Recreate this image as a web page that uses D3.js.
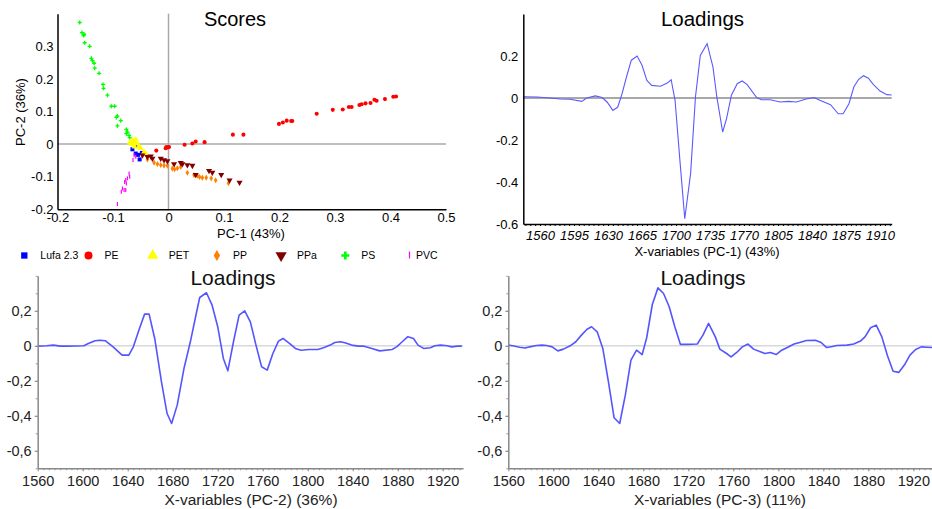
<!DOCTYPE html>
<html>
<head>
<meta charset="utf-8">
<script src="https://cdn.jsdelivr.net/npm/d3@7"></script>
<style>
html,body{margin:0;padding:0;background:#fff;}
svg{display:block;font-family:"Liberation Sans",Arial,sans-serif;}
</style>
</head>
<body>
<svg id="chart" width="932" height="509"></svg>
<script>
// ---------------- DATA ----------------
const scoreGroups = ["Lufa 2.3", "PE", "PET", "PP", "PPa", "PS", "PVC"];
const scoreColors = ["#0000ff", "#ff0000", "#ffff00", "#ff8000", "#800000", "#00ff00", "#ff00ff"];

const lufaScores = [[-0.060,-0.005],[-0.065,-0.016],[-0.059,-0.029],[-0.048,-0.027],[-0.052,-0.047],[-0.055,-0.033]];
const peScores = [[-0.022,-0.020],[-0.005,-0.013],[-0.004,-0.009],[-0.001,-0.010],[0.001,-0.009],[0.029,-0.002],
  [0.043,0.002],[0.049,0.008],[0.065,0.006],[0.116,0.029],[0.135,0.029],[0.199,0.062],[0.206,0.066],[0.213,0.072],
  [0.221,0.071],[0.223,0.071],[0.267,0.093],[0.296,0.105],[0.314,0.106],[0.325,0.114],[0.330,0.114],[0.344,0.120],
  [0.348,0.122],[0.355,0.125],[0.364,0.126],[0.371,0.136],[0.375,0.133],[0.390,0.138],[0.405,0.145],[0.410,0.146]];
const petScores = [[-0.065,0.012],[-0.062,0.007],[-0.059,0.014],[-0.067,0.002],[-0.070,0.004],[-0.056,0.002],
  [-0.053,-0.008],[-0.050,-0.013],[-0.044,-0.024],[-0.040,-0.031],[-0.064,-0.001],[-0.061,-0.008],
  [-0.063,0.004],[-0.062,0.002],[-0.064,0.005],[-0.061,0.003]];
const ppScores = [[-0.038,-0.047],[-0.026,-0.057],[-0.020,-0.061],[-0.014,-0.064],[-0.008,-0.066],[-0.002,-0.066],
  [0.007,-0.075],[0.011,-0.077],[0.016,-0.074],[0.022,-0.070],[0.034,-0.088],[0.046,-0.095],[0.052,-0.097],
  [0.056,-0.101],[0.061,-0.103],[0.068,-0.103],[0.077,-0.105],[0.085,-0.111],[0.108,-0.120]];
const ppaScores = [[-0.047,-0.034],[-0.038,-0.039],[-0.032,-0.037],[-0.029,-0.044],[-0.014,-0.044],[-0.008,-0.049],
  [-0.002,-0.052],[0.010,-0.061],[0.022,-0.057],[0.025,-0.061],[0.034,-0.064],[0.043,-0.066],[0.049,-0.094],
  [0.073,-0.082],[0.079,-0.087],[0.095,-0.094],[0.110,-0.111],[0.128,-0.118]];
const psScores = [[-0.160,0.373],[-0.156,0.342],[-0.152,0.337],[-0.153,0.333],[-0.151,0.311],[-0.142,0.300],
  [-0.139,0.263],[-0.137,0.256],[-0.134,0.248],[-0.133,0.233],[-0.125,0.217],[-0.118,0.183],[-0.117,0.171],
  [-0.110,0.150],[-0.103,0.116],[-0.097,0.116],[-0.094,0.082],[-0.092,0.086],[-0.086,0.072],[-0.092,0.056],
  [-0.076,0.045],[-0.074,0.037],[-0.071,0.027],[-0.076,0.032],[-0.070,0.020]];
const pvcScores = [[-0.062,-0.034],[-0.059,-0.039],[-0.064,-0.049],[-0.071,-0.090],[-0.074,-0.105],[-0.077,-0.110],
  [-0.079,-0.116],[-0.076,-0.121],[-0.080,-0.141],[-0.083,-0.136],[-0.085,-0.146],[-0.077,-0.141],[-0.092,-0.184],
  [-0.070,-0.100]];

const scoreXTicks = [-0.2, -0.1, 0, 0.1, 0.2, 0.3, 0.4, 0.5];
const scoreYTicks = [-0.2, -0.1, 0, 0.1, 0.2, 0.3];

const pc1Wavenumber = [1543,1557,1570,1581,1591,1603,1608,1617,1624,1629,1635,1640,1644,1649,1654,1660,1665,1670,
  1675,1684,1691,1695,1699,1704,1709,1715,1720,1725,1732,1738,1742,1748,1752,1757,1763,1768,1773,1783,1788,1797,
  1807,1816,1824,1833,1842,1848,1859,1867,1872,1878,1883,1888,1893,1898,1903,1910,1917,1922];
const pc1Loading = [0.006,0.005,0,-0.005,-0.006,-0.016,0,0.010,0.002,-0.019,-0.059,-0.043,0.013,0.100,0.180,0.200,
  0.156,0.084,0.060,0.056,0.071,0.087,-0.011,-0.297,-0.575,-0.360,0.005,0.203,0.259,0.148,0.005,-0.162,-0.098,
  0.013,0.068,0.081,0.065,0.002,-0.008,-0.008,-0.019,-0.016,-0.019,-0.006,0.002,-0.011,-0.032,-0.075,-0.075,
  -0.027,0.052,0.089,0.106,0.094,0.065,0.033,0.016,0.014];
const pc1XTicks = [1560, 1595, 1630, 1665, 1700, 1735, 1770, 1805, 1840, 1875, 1910];
const pc1YTicks = [-0.6, -0.4, -0.2, 0, 0.2];

const pc2Wavenumber = [1560,1568,1574,1580,1586,1601,1605,1611,1615,1620,1627,1635,1641,1645,1650,1655,1659,1664,
  1670,1675,1679,1684,1690,1696,1700,1704,1710,1715,1720,1725,1729,1734,1739,1744,1749,1754,1759,1764,1769,1774,
  1778,1784,1789,1794,1801,1809,1814,1820,1824,1829,1833,1839,1845,1850,1857,1864,1875,1879,1884,1889,1894,1898,
  1903,1909,1913,1918,1924,1928,1933,1937];
const pc2Loading = [-0.002,0,0.004,-0.002,-0.002,0,0.013,0.029,0.032,0.029,-0.006,-0.053,-0.053,-0.006,0.090,0.181,
  0.181,0.042,-0.206,-0.387,-0.444,-0.339,-0.130,0.032,0.156,0.276,0.303,0.232,0.109,-0.072,-0.143,0.023,0.175,
  0.200,0.137,0.004,-0.120,-0.139,-0.044,0.027,0.042,0.013,-0.015,-0.025,-0.021,-0.021,-0.011,0.004,0.019,0.023,
  0.017,0.004,-0.002,-0.002,-0.015,-0.029,-0.021,-0.006,0.023,0.052,0.042,0.004,-0.015,-0.011,0,0.004,0,-0.006,
  -0.002,-0.002];

const pc3Wavenumber = [1560,1564,1570,1575,1579,1585,1590,1594,1599,1604,1609,1615,1620,1625,1630,1634,1639,1644,
  1649,1654,1659,1664,1669,1674,1679,1683,1688,1693,1698,1703,1708,1713,1719,1728,1733,1738,1744,1748,1754,1758,
  1763,1768,1773,1778,1784,1788,1793,1798,1803,1808,1814,1819,1825,1833,1838,1843,1848,1852,1861,1867,1873,1877,
  1882,1887,1892,1897,1902,1907,1912,1917,1922,1927,1932,1937];
const pc3Loading = [0.004,0,-0.008,-0.013,-0.006,0.002,0.004,0.002,-0.006,-0.029,-0.019,0,0.023,0.061,0.095,0.109,
  0.080,-0.015,-0.206,-0.411,-0.444,-0.282,-0.082,-0.025,-0.050,0.046,0.236,0.331,0.299,0.223,0.109,0.008,0.008,
  0.010,0.061,0.128,0.051,-0.019,-0.044,-0.063,-0.038,-0.006,0.010,-0.019,-0.034,-0.044,-0.038,-0.050,-0.025,
  -0.010,0.010,0.019,0.030,0.032,0.019,-0.010,-0.004,0.002,0.004,0.010,0.027,0.051,0.103,0.118,0.051,-0.057,
  -0.145,-0.152,-0.110,-0.053,-0.021,-0.006,-0.008,-0.010];

const lowerXTicks = [1560, 1600, 1640, 1680, 1720, 1760, 1800, 1840, 1880, 1920];
const lowerYTicks = [-0.6, -0.4, -0.2, 0, 0.2];

// ---------------- DRAW ----------------
const svg = d3.select("#chart");
const FONT = '"Liberation Sans",Arial,sans-serif';
const dotFmt = v => (Math.abs(v) < 1e-9 ? "0" : String(+v.toFixed(2)));
const commaFmt = v => dotFmt(v).replace(".", ",");

function text(g, x, y, s, size, opts = {}) {
  const t = g.append("text").attr("x", x).attr("y", y).text(s)
    .attr("font-size", size).attr("fill", opts.fill || "#000")
    .attr("text-anchor", opts.anchor || "middle").attr("font-family", FONT);
  if (opts.rotate) t.attr("transform", `rotate(-90,${x},${y})`);
  if (opts.italic) t.attr("font-style", "italic");
  return t;
}

// ===== Panel 1: Scores =====
(function () {
  const x = d3.scaleLinear().domain([-0.2, 0.5]).range([57.5, 446]);
  const y = d3.scaleLinear().domain([-0.2, 0.4]).range([209.3, 13.7]);
  const g = svg.append("g");
  g.append("line").attr("x1", x(0)).attr("x2", x(0)).attr("y1", y(0.4)).attr("y2", y(-0.2))
    .attr("stroke", "#a8a8a8").attr("stroke-width", 1.5);
  g.append("line").attr("x1", x(-0.2)).attr("x2", x(0.5)).attr("y1", y(0)).attr("y2", y(0))
    .attr("stroke", "#a8a8a8").attr("stroke-width", 1.5);

  const groupsData = [lufaScores, peScores, petScores, ppScores, ppaScores, psScores, pvcScores];
  const symbolFor = [d3.symbolSquare, d3.symbolCircle, d3.symbolTriangle, d3.symbolDiamond, d3.symbolTriangle, d3.symbolCross, null];
  const sizes = [16, 13, 16, 11, 16, 9, 0];
  groupsData.forEach((arr, gi) => {
    const sg = g.append("g");
    arr.forEach(p => {
      const cx = x(p[0]), cy = y(p[1]);
      if (gi === 6) {
        sg.append("line").attr("x1", cx).attr("x2", cx).attr("y1", cy - 2).attr("y2", cy + 2)
          .attr("stroke", scoreColors[gi]).attr("stroke-width", 1.2);
      } else {
        const rot = gi === 4 ? " rotate(180)" : "";
        sg.append("path").attr("d", d3.symbol().type(symbolFor[gi]).size(sizes[gi])())
          .attr("transform", `translate(${cx},${cy})${rot}`)
          .attr("fill", scoreColors[gi]);
      }
    });
  });

  const xa = g.append("g").attr("transform", `translate(0,${y(-0.2)})`)
    .call(d3.axisBottom(x).tickValues(scoreXTicks).tickSize(0).tickPadding(3).tickFormat(dotFmt));
  xa.select(".domain").attr("stroke", "#000").attr("stroke-width", 1.5);
  xa.selectAll("text").attr("font-size", 13).attr("font-family", FONT).attr("fill", "#000");
  const ya = g.append("g").attr("transform", `translate(${x(-0.2)},0)`)
    .call(d3.axisLeft(y).tickValues(scoreYTicks).tickSize(0).tickPadding(4).tickFormat(dotFmt));
  ya.select(".domain").attr("stroke", "#000").attr("stroke-width", 1.5);
  ya.selectAll("text").attr("font-size", 13).attr("font-family", FONT).attr("fill", "#000");

  text(g, 235, 26, "Scores", 20);
  text(g, 251, 238, "PC-1 (43%)", 13);
  text(g, 25, 112, "PC-2 (36%)", 13, { rotate: true });

  const lg = g.append("g");
  scoreGroups.forEach((name, i) => {
    const mx = 24.3 + i * 64.2, my = 255.5;
    if (i === 6) {
      lg.append("line").attr("x1", mx).attr("x2", mx).attr("y1", my - 4).attr("y2", my + 3)
        .attr("stroke", scoreColors[i]).attr("stroke-width", 1.2);
    } else {
      const sz = [40, 50, 55, 36, 55, 36][i];
      const rot = i === 4 ? " rotate(180)" : "";
      lg.append("path").attr("d", d3.symbol().type(symbolFor[i]).size(sz)())
        .attr("transform", `translate(${mx},${my})${rot}`).attr("fill", scoreColors[i]);
    }
    text(lg, mx + (i === 6 ? 6.5 : 16), 259, name, 10.5, { anchor: "start" });
  });
})();

// ===== Panel 2: Loadings PC-1 =====
(function () {
  const x = d3.scaleLinear().domain([1542.8, 1922]).range([523.3, 891.7]);
  const y = d3.scaleLinear().domain([-0.6, 0.4]).range([224, 14]);
  const g = svg.append("g");
  g.append("line").attr("x1", x.range()[0]).attr("x2", x.range()[1]).attr("y1", y(0)).attr("y2", y(0))
    .attr("stroke", "#a8a8a8").attr("stroke-width", 1.8);
  const line = d3.line().x((d, i) => x(pc1Wavenumber[i])).y(d => y(d));
  g.append("path").datum(pc1Loading).attr("d", line).attr("fill", "none")
    .attr("stroke", "#5a5aff").attr("stroke-width", 1.1);

  const minor = d3.range(1545, 1922, 5);
  g.append("g").attr("transform", `translate(0,${y(-0.6)})`)
    .call(d3.axisBottom(x).tickValues(minor).tickSize(2).tickFormat(""))
    .call(a => a.select(".domain").remove())
    .selectAll("line").attr("stroke", "#000");
  const xa = g.append("g").attr("transform", `translate(0,${y(-0.6)})`)
    .call(d3.axisBottom(x).tickValues(pc1XTicks).tickSize(2).tickPadding(5).tickSizeOuter(0).tickFormat(d => d));
  xa.select(".domain").attr("stroke", "#000").attr("stroke-width", 1.5);
  xa.selectAll("text").attr("font-size", 13).attr("font-style", "italic").attr("font-family", FONT).attr("fill", "#000");
  const ya = g.append("g").attr("transform", `translate(${x.range()[0]},0)`)
    .call(d3.axisLeft(y).tickValues(pc1YTicks).tickSize(0).tickPadding(5).tickFormat(dotFmt));
  ya.select(".domain").attr("stroke", "#000").attr("stroke-width", 1.5);
  ya.selectAll("text").attr("font-size", 13).attr("font-family", FONT).attr("fill", "#000");

  text(g, 702.5, 26, "Loadings", 20.5);
  text(g, 707, 256, "X-variables (PC-1) (43%)", 13);
})();

// ===== Lower panels =====
function lowerPanel(x0, x1, wn, ld, title, titleX, label, labelX) {
  const x = d3.scaleLinear().domain([1560, 1938]).range([x0, x1]);
  const y = d3.scaleLinear().domain([-0.7, 0.4]).range([468.3, 275.8]);
  const g = svg.append("g");
  g.append("line").attr("x1", x0).attr("x2", x1).attr("y1", y(0)).attr("y2", y(0))
    .attr("stroke", "#d8d8d8").attr("stroke-width", 1.5);
  const line = d3.line().x((d, i) => x(wn[i])).y(d => y(d));
  g.append("path").datum(ld).attr("d", line).attr("fill", "none")
    .attr("stroke", "#5555ff").attr("stroke-width", 1.6).attr("stroke-linejoin", "round");

  g.append("g").attr("transform", `translate(0,${y(-0.7)})`)
    .call(d3.axisBottom(x).tickValues(d3.range(1565, 1938, 5)).tickSize(2).tickFormat(""))
    .call(a => a.select(".domain").remove())
    .selectAll("line").attr("stroke", "#999");
  g.append("g").attr("transform", `translate(${x0},0)`)
    .call(d3.axisLeft(y).tickValues(d3.range(-0.7, 0.41, 0.1)).tickSize(2).tickFormat(""))
    .call(a => a.select(".domain").remove())
    .selectAll("line").attr("stroke", "#999");

  const xa = g.append("g").attr("transform", `translate(0,${y(-0.7)})`)
    .call(d3.axisBottom(x).tickValues(lowerXTicks).tickSize(3).tickPadding(4).tickSizeOuter(0).tickFormat(d => d));
  xa.select(".domain").attr("stroke", "#888").attr("stroke-width", 1.5);
  xa.selectAll("line").attr("stroke", "#888");
  xa.selectAll("text").attr("font-size", 14.5).attr("font-family", FONT).attr("fill", "#222");
  const ya = g.append("g").attr("transform", `translate(${x0},0)`)
    .call(d3.axisLeft(y).tickValues(lowerYTicks).tickSize(3).tickPadding(3).tickSizeOuter(0).tickFormat(commaFmt));
  ya.select(".domain").attr("stroke", "#888").attr("stroke-width", 1.5);
  ya.selectAll("line").attr("stroke", "#888");
  ya.selectAll("text").attr("font-size", 14.5).attr("font-family", FONT).attr("fill", "#222");

  text(g, titleX, 285, title, 21, { fill: "#111" });
  text(g, labelX, 505, label, 15.5, { fill: "#222" });
}
lowerPanel(37.7, 463, pc2Wavenumber, pc2Loading, "Loadings", 233, "X-variables (PC-2) (36%)", 251);
lowerPanel(508.3, 933.6, pc3Wavenumber, pc3Loading, "Loadings", 703, "X-variables (PC-3) (11%)", 720);
</script>
</body>
</html>
